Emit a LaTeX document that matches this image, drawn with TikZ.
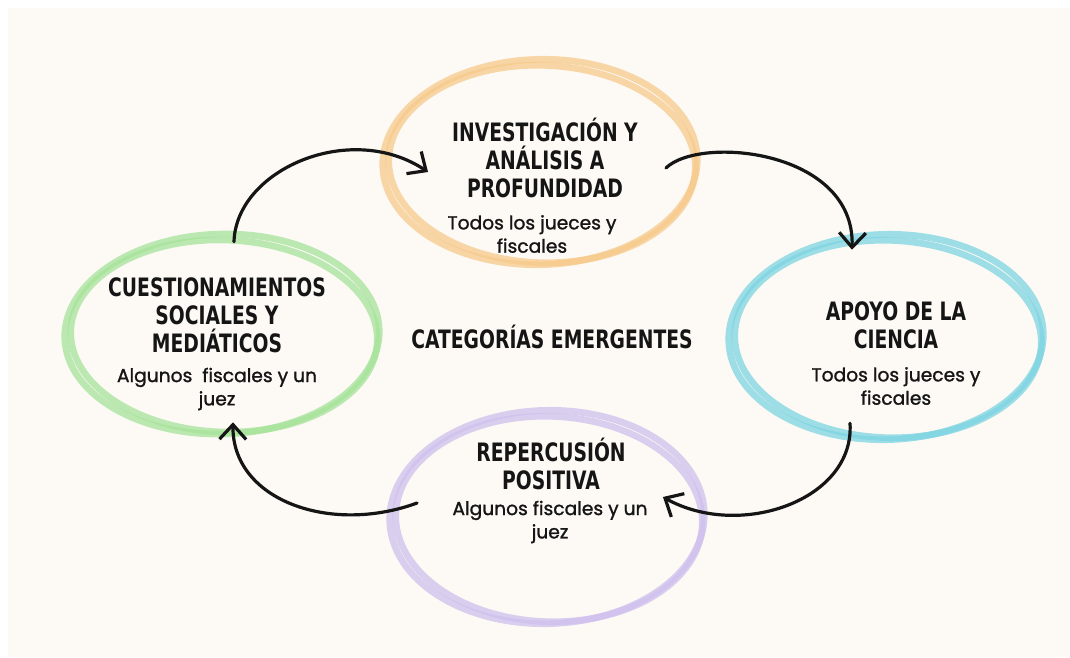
\documentclass[tikz,border=0pt]{standalone}
\usepackage{fontspec}
\setmainfont{Poppins}
\newfontfamily\titlefont[FakeStretch=0.74]{DejaVu Sans}
\newfontfamily\subfont[FakeBold=1.3]{Poppins}
\usetikzlibrary{shapes.geometric,arrows.meta}
\definecolor{cream}{HTML}{FDFAF5}
\definecolor{ringorange}{HTML}{F7C98A}
\definecolor{ringgreen}{HTML}{A6E39A}
\definecolor{ringblue}{HTML}{7ED4E2}
\definecolor{ringpurple}{HTML}{CFC0EE}
\definecolor{ink}{HTML}{151515}

\begin{document}
\begin{tikzpicture}[x=0.75pt,y=-0.75pt,
    cat/.style={ellipse,inner sep=0pt,minimum width=238pt,minimum height=156pt},
    ringline/.style={line width=5pt,opacity=0.75},
    ttl/.style={font=\titlefont\bfseries\fontsize{19}{21}\selectfont,align=center,text=ink},
    sub/.style={font=\subfont\fontsize{14}{17.5}\selectfont,align=center,text=ink},
    flow/.style={-{Straight Barb[length=11pt,width=20pt]},line width=2.4pt,line cap=round,line join=round,draw=ink}]
  \useasboundingbox (0,0) rectangle (1070,657);
  \fill[cream] (8,8) rectangle (1070,657);
  % the four categories
  \node[cat] (inv) at (540,162) {};
  \node[cat] (cue) at (222,334) {};
  \node[cat] (apo) at (886,337) {};
  \node[cat] (rep) at (547,517) {};
  \foreach \n/\c/\ry in {inv/ringorange/77,cue/ringgreen/75,apo/ringblue/77,rep/ringpurple/80}{
    \draw[ringline,draw=\c] (\n.center) ellipse [x radius=118pt,y radius=\ry pt,rotate=1.5];
    \draw[ringline,draw=\c] ([shift={(2,2)}]\n.center) ellipse [x radius=115pt,y radius=\ry pt-3pt,rotate=-2];
  }
  % texts
  \node[ttl] (invt) at (545,158) {INVESTIGACIÓN Y\\ANÁLISIS A\\PROFUNDIDAD};
  \node[sub] (invs) at (532,234) {Todos los jueces y\\fiscales};
  \node[ttl] (cuet) at (217,315) {CUESTIONAMIENTOS\\SOCIALES Y\\MEDIÁTICOS};
  \node[sub] (cues) at (217,389) {Algunos~ fiscales y un\\juez};
  \node[ttl] (apot) at (896,325) {APOYO DE LA\\CIENCIA};
  \node[sub] (apos) at (896,386) {Todos los jueces y\\fiscales};
  \node[ttl] (rept) at (551,464) {REPERCUSIÓN\\POSITIVA};
  \node[sub] (reps) at (550,522) {Algunos fiscales y un\\juez};
  \node[ttl] (mid) at (552,337) {CATEGORÍAS EMERGENTES};
  % cycle
  \draw[flow] ([shift={(12,12)}]cue.north) .. controls (236,170) and (350,120) .. ([shift={(-112,10)}]inv.center);
  \draw[flow] ([shift={(-33,6)}]inv.east) .. controls (700,135) and (855,150) .. ([shift={(-34,17)}]apo.north);
  \draw[flow] ([shift={(-36,-18)}]apo.south) .. controls (855,500) and (740,540) .. ([shift={(-43,-20)}]rep.east);
  \draw[flow] ([shift={(29,-14)}]rep.west) .. controls (330,535) and (232,500) .. ([shift={(11,-16)}]cue.south);
\end{tikzpicture}
\end{document}
